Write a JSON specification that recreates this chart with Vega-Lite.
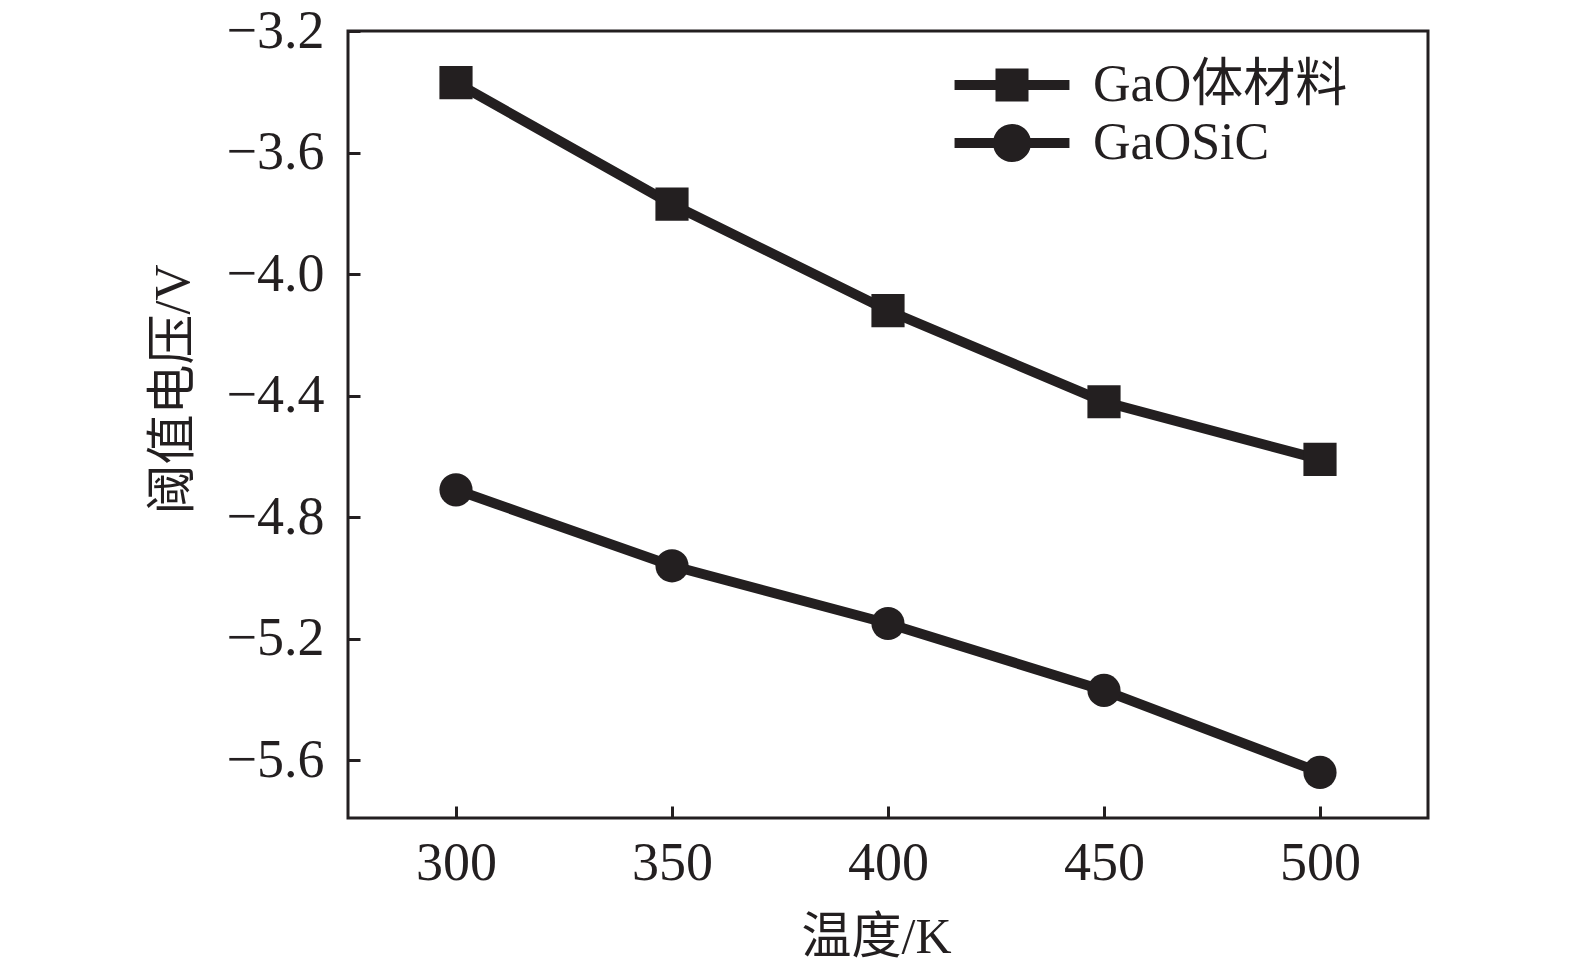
{
  "$schema": "https://vega.github.io/schema/vega-lite/v6.json",
  "width": 1080,
  "height": 787,
  "autosize": "none",
  "padding": {"left": 348, "top": 31, "right": 147, "bottom": 149},
  "background": "white",
  "data": {
    "values": [
      {"T": 300, "V": -3.37, "series": "GaO体材料"},
      {"T": 350, "V": -3.77, "series": "GaO体材料"},
      {"T": 400, "V": -4.12, "series": "GaO体材料"},
      {"T": 450, "V": -4.42, "series": "GaO体材料"},
      {"T": 500, "V": -4.61, "series": "GaO体材料"},
      {"T": 300, "V": -4.71, "series": "GaOSiC"},
      {"T": 350, "V": -4.96, "series": "GaOSiC"},
      {"T": 400, "V": -5.15, "series": "GaOSiC"},
      {"T": 450, "V": -5.37, "series": "GaOSiC"},
      {"T": 500, "V": -5.64, "series": "GaOSiC"}
    ]
  },
  "encoding": {
    "x": {
      "field": "T",
      "type": "quantitative",
      "scale": {"domain": [275, 525], "nice": false, "zero": false},
      "axis": {
        "title": "温度/K",
        "values": [300, 350, 400, 450, 500],
        "titleX": 528,
        "titlePadding": 22
      }
    },
    "y": {
      "field": "V",
      "type": "quantitative",
      "scale": {"domain": [-5.79, -3.2], "nice": false, "zero": false},
      "axis": {
        "title": "阈值电压/V",
        "values": [-5.6, -5.2, -4.8, -4.4, -4.0, -3.6, -3.2],
        "format": ".1f",
        "titleY": 358,
        "titlePadding": 28
      }
    }
  },
  "layer": [
    {
      "mark": {"type": "line", "color": "#231f20", "strokeWidth": 10},
      "encoding": {"detail": {"field": "series"}}
    },
    {
      "mark": {"type": "point", "filled": true, "color": "#231f20", "opacity": 1, "size": 1100},
      "encoding": {
        "shape": {
          "field": "series",
          "type": "nominal",
          "scale": {"domain": ["GaO体材料", "GaOSiC"], "range": ["square", "circle"]},
          "legend": null
        }
      }
    },
    {
      "mark": {"type": "point", "filled": true, "color": "#231f20", "opacity": 0, "size": 900},
      "encoding": {
        "shape": {
          "field": "series",
          "type": "nominal",
          "scale": {
            "domain": ["GaO体材料", "GaOSiC"],
            "range": [
              "M-3.83,-0.33H3.83V0.33H-3.83ZM-1.1,-1.1H1.1V1.1H-1.1Z",
              "M-3.83,-0.33H3.83V0.33H-3.83ZM-1.27,0A1.27,1.27 0 1,1 1.27,0A1.27,1.27 0 1,1 -1.27,0Z"
            ]
          },
          "legend": {
            "title": null,
            "orient": "none",
            "legendX": 638,
            "legendY": 28,
            "padding": 0,
            "symbolSize": 900,
            "symbolOpacity": 1,
            "symbolFillColor": "#231f20",
            "symbolStrokeWidth": 0,
            "labelOffset": 55,
            "labelFontSize": 52,
            "labelFont": "Liberation Serif, Noto Sans CJK SC",
            "labelColor": "#231f20",
            "rowPadding": 6,
            "labelLimit": 500,
            "encode": {
              "symbols": {
                "update": {
                  "opacity": {"value": 1},
                  "fill": {"value": "#231f20"},
                  "strokeWidth": {"value": 0}
                }
              }
            }
          }
        }
      }
    }
  ],
  "resolve": {"scale": {"shape": "independent"}},
  "config": {
    "view": {"stroke": "#231f20", "strokeWidth": 3},
    "axis": {
      "grid": false,
      "domain": false,
      "tickSize": -12,
      "tickWidth": 3,
      "tickColor": "#231f20",
      "labelFont": "Liberation Serif",
      "labelFontSize": 54,
      "labelColor": "#231f20",
      "titleFont": "Liberation Serif, Noto Sans CJK SC",
      "titleFontSize": 50,
      "titleFontWeight": "normal",
      "titleColor": "#231f20"
    },
    "axisX": {"labelPadding": 30},
    "axisY": {"labelPadding": 36}
  }
}
